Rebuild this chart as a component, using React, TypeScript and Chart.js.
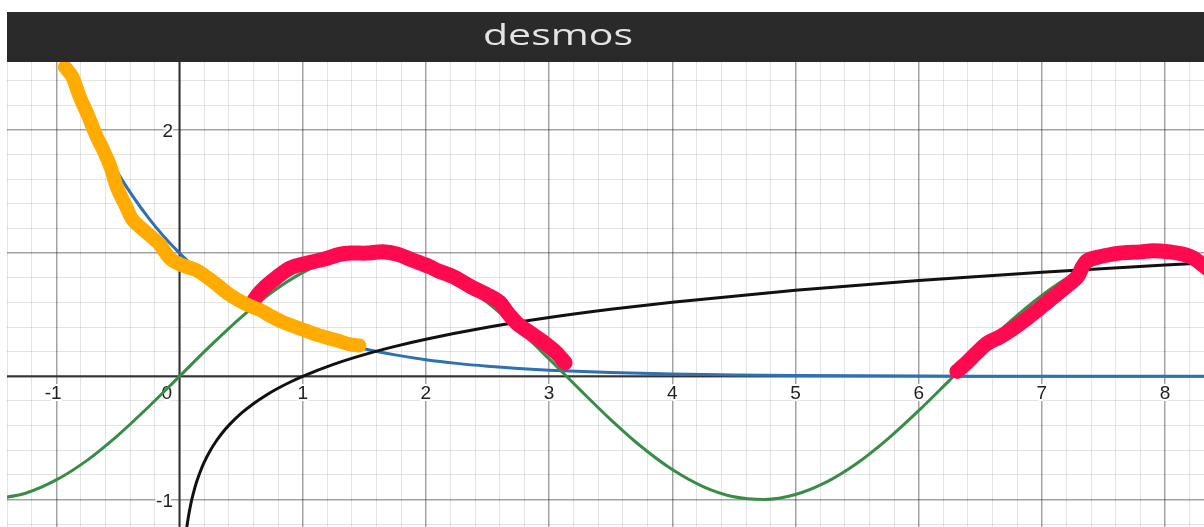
import { useEffect, useRef } from "react";
import { Chart, registerables } from "chart.js";

Chart.register(...registerables);

// Visible window of the graph paper
const X_MIN = -1.4;
const X_MAX = 8.316;
const Y_MIN = -1.223;
const Y_MAX = 2.551;
const MINOR_STEP = 0.2;

// y = e^(-x)
const EXP_X = [-1.5, -1.25, -1, -0.75, -0.5, -0.25, 0, 0.25, 0.5, 0.75, 1, 1.25, 1.5, 1.75, 2, 2.25, 2.5, 2.75, 3, 3.5, 4, 4.5, 5, 6, 7, 8.5];
const EXP_Y = [4.482, 3.49, 2.718, 2.117, 1.649, 1.284, 1.0, 0.779, 0.607, 0.472, 0.368, 0.287, 0.223, 0.174, 0.135, 0.105, 0.082, 0.064, 0.05, 0.03, 0.018, 0.011, 0.007, 0.002, 0.001, 0.0];

// y = sin(x)
const SIN_X = [-1.5, -1.25, -1, -0.75, -0.5, -0.25, 0, 0.25, 0.5, 0.75, 1, 1.25, 1.5, 1.75, 2, 2.25, 2.5, 2.75, 3, 3.25, 3.5, 3.75, 4, 4.25, 4.5, 4.75, 5, 5.25, 5.5, 5.75, 6, 6.25, 6.5, 6.75, 7, 7.25, 7.5, 7.75, 8, 8.25, 8.5];
const SIN_Y = [-0.997, -0.949, -0.841, -0.682, -0.479, -0.247, 0.0, 0.247, 0.479, 0.682, 0.841, 0.949, 0.997, 0.984, 0.909, 0.778, 0.598, 0.382, 0.141, -0.108, -0.351, -0.572, -0.757, -0.895, -0.978, -0.999, -0.959, -0.859, -0.706, -0.508, -0.279, -0.033, 0.215, 0.451, 0.657, 0.823, 0.938, 0.995, 0.989, 0.923, 0.798];

// y = log(x)
const LOG_X = [0.05, 0.06, 0.07, 0.08, 0.09, 0.1, 0.12, 0.14, 0.17, 0.2, 0.25, 0.3, 0.35, 0.4, 0.5, 0.6, 0.7, 0.8, 0.9, 1, 1.25, 1.5, 1.75, 2, 2.5, 3, 3.5, 4, 5, 6, 7, 8, 8.5];
const LOG_Y = [-1.301, -1.222, -1.155, -1.097, -1.046, -1.0, -0.921, -0.854, -0.77, -0.699, -0.602, -0.523, -0.456, -0.398, -0.301, -0.222, -0.155, -0.097, -0.046, 0.0, 0.097, 0.176, 0.243, 0.301, 0.398, 0.477, 0.544, 0.602, 0.699, 0.778, 0.845, 0.903, 0.929];

// Hand-drawn orange stroke along the exponential
const ORANGE_X = [-0.93, -0.87, -0.81, -0.74, -0.67, -0.62, -0.56, -0.51, -0.43, -0.38, -0.26, -0.16, -0.08, 0.0, 0.14, 0.27, 0.41, 0.55, 0.65, 0.74, 0.84, 1.0, 1.14, 1.28, 1.38, 1.46];
const ORANGE_Y = [2.51, 2.43, 2.27, 2.11, 1.94, 1.84, 1.7, 1.54, 1.37, 1.27, 1.16, 1.07, 0.96, 0.91, 0.86, 0.77, 0.66, 0.58, 0.54, 0.49, 0.44, 0.38, 0.33, 0.29, 0.26, 0.25];

// Hand-drawn red strokes over the sine humps
const RED1_X = [0.6, 0.65, 0.76, 0.9, 1.04, 1.17, 1.3, 1.39, 1.52, 1.65, 1.77, 1.9, 2.03, 2.09, 2.22, 2.36, 2.5, 2.6, 2.66, 2.74, 2.85, 2.95, 3.06, 3.13];
const RED1_Y = [0.61, 0.68, 0.78, 0.88, 0.92, 0.95, 0.99, 1.0, 1.0, 1.01, 0.99, 0.94, 0.89, 0.86, 0.81, 0.73, 0.66, 0.6, 0.52, 0.43, 0.35, 0.28, 0.19, 0.11];
const RED2_X = [6.31, 6.39, 6.47, 6.56, 6.66, 6.77, 6.88, 6.99, 7.09, 7.2, 7.29, 7.33, 7.37, 7.47, 7.63, 7.8, 7.9, 8.04, 8.15, 8.23, 8.31, 8.41];
const RED2_Y = [0.04, 0.11, 0.19, 0.27, 0.32, 0.39, 0.47, 0.56, 0.64, 0.73, 0.81, 0.89, 0.94, 0.97, 1.0, 1.01, 1.02, 1.01, 0.99, 0.96, 0.9, 0.82];

// Axis numbers
const X_TICK_LABELS = [-1, 1, 2, 3, 4, 5, 6, 7, 8];
const Y_TICK_LABELS = [2, -1];
const ORIGIN_LABEL = "0";

const BRAND = "desmos";

const pts = (xs: number[], ys: number[]) => xs.map((x, i) => ({ x, y: ys[i] }));

const isMajor = (v: number) => Math.abs(v - Math.round(v)) < 1e-6;

const gridColor = (ctx: any) => {
  const v = ctx.tick ? ctx.tick.value : 0.5;
  return isMajor(v) ? "rgba(0,0,0,0.36)" : "rgba(0,0,0,0.11)";
};
const gridWidth = (ctx: any) => {
  const v = ctx.tick ? ctx.tick.value : 0.5;
  return isMajor(v) ? 1.5 : 1;
};

const buildGridTicks = (scale: any) => {
  const ticks: { value: number }[] = [];
  const first = Math.ceil(scale.min / MINOR_STEP - 1e-9);
  const last = Math.floor(scale.max / MINOR_STEP + 1e-9);
  for (let k = first; k <= last; k++) {
    ticks.push({ value: Math.round(k * MINOR_STEP * 1000) / 1000 });
  }
  scale.ticks = ticks;
};

const LABEL_FONT = '19px "Liberation Sans", Arial, sans-serif';

const paperPlugin = {
  id: "paper",
  beforeDraw(chart: any) {
    const { ctx, width, height } = chart;
    ctx.save();
    ctx.fillStyle = "#ffffff";
    ctx.fillRect(0, 0, width, height);
    // header bar
    ctx.fillStyle = "#2a2a2a";
    ctx.fillRect(7, 12, width - 7, 50);
    // brand name, stretched to the wide logo shape
    ctx.fillStyle = "#e4e4e4";
    ctx.font = '500 29px "Open Sans", sans-serif';
    const w = ctx.measureText(BRAND).width;
    const target = 150;
    ctx.translate(558, 45);
    ctx.scale(target / w, 1);
    ctx.textAlign = "left";
    ctx.textBaseline = "alphabetic";
    ctx.fillText(BRAND, -w / 2, 0);
    ctx.restore();
  },
  beforeDatasetsDraw(chart: any) {
    const { ctx, chartArea, scales } = chart;
    const x0 = scales.x.getPixelForValue(0);
    const y0 = scales.y.getPixelForValue(0);
    ctx.save();
    ctx.beginPath();
    ctx.rect(chartArea.left, chartArea.top, chartArea.right - chartArea.left, chartArea.bottom - chartArea.top);
    ctx.clip();
    // axes
    ctx.strokeStyle = "#333333";
    ctx.lineWidth = 2;
    ctx.beginPath();
    ctx.moveTo(chartArea.left, y0);
    ctx.lineTo(chartArea.right, y0);
    ctx.moveTo(x0, chartArea.top);
    ctx.lineTo(x0, chartArea.bottom);
    ctx.stroke();

    // axis numbers with a white halo
    ctx.font = LABEL_FONT;
    ctx.lineJoin = "round";
    ctx.lineWidth = 4;
    ctx.strokeStyle = "#ffffff";
    ctx.fillStyle = "#222222";
    ctx.textBaseline = "alphabetic";
    const minusW = ctx.measureText("-").width;
    const draw = (text: string, x: number, y: number, align: CanvasTextAlign) => {
      ctx.textAlign = align;
      ctx.strokeText(text, x, y);
      ctx.fillText(text, x, y);
    };
    X_TICK_LABELS.forEach((v) => {
      const px = scales.x.getPixelForValue(v);
      const shift = v < 0 ? minusW / 2 : 0;
      draw(String(v), px - shift, y0 + 22.5, "center");
    });
    draw(ORIGIN_LABEL, x0 - 7.5, y0 + 22.5, "right");
    Y_TICK_LABELS.forEach((v) => {
      const py = scales.y.getPixelForValue(v);
      draw(String(v), x0 - 6.5, py + 7, "right");
    });
    ctx.restore();
  },
};

export default function App() {
  const canvasRef = useRef<HTMLCanvasElement | null>(null);

  useEffect(() => {
    const canvas = canvasRef.current;
    if (!canvas) return;

    const curve = (data: { x: number; y: number }[], color: string) => ({
      data,
      borderColor: color,
      borderWidth: 3,
      pointRadius: 0,
      fill: false,
      cubicInterpolationMode: "monotone" as const,
      borderCapStyle: "round" as const,
      borderJoinStyle: "round" as const,
    });
    const stroke = (data: { x: number; y: number }[], color: string, width: number) => ({
      data,
      borderColor: color,
      borderWidth: width,
      pointRadius: 0,
      fill: false,
      tension: 0.3,
      borderCapStyle: "round" as const,
      borderJoinStyle: "round" as const,
    });

    const chart = new Chart(canvas, {
      type: "line",
      data: {
        datasets: [
          stroke(pts(ORANGE_X, ORANGE_Y), "#ffab00", 14),
          stroke(pts(RED1_X, RED1_Y), "#ff0a4e", 15),
          stroke(pts(RED2_X, RED2_Y), "#ff0a4e", 15),
          curve(pts(LOG_X, LOG_Y), "#111111"),
          curve(pts(SIN_X, SIN_Y), "#388c46"),
          curve(pts(EXP_X, EXP_Y), "#2d70b3"),
        ] as any,
      },
      plugins: [paperPlugin],
      options: {
        animation: false,
        responsive: false,
        devicePixelRatio: 1,
        events: [],
        layout: { padding: { top: 62, left: 7, right: 0, bottom: 0 } },
        plugins: {
          legend: { display: false },
          tooltip: { enabled: false },
        },
        scales: {
          x: {
            type: "linear",
            min: X_MIN,
            max: X_MAX,
            afterBuildTicks: buildGridTicks,
            ticks: { display: false },
            border: { display: false },
            grid: { drawTicks: false, color: gridColor, lineWidth: gridWidth },
          },
          y: {
            type: "linear",
            min: Y_MIN,
            max: Y_MAX,
            afterBuildTicks: buildGridTicks,
            ticks: { display: false },
            border: { display: false },
            grid: { drawTicks: false, color: gridColor, lineWidth: gridWidth },
          },
        },
      } as any,
    });

    return () => chart.destroy();
  }, []);

  return (
    <div style={{ position: "fixed", left: 0, top: 0, width: 1204, height: 527 }}>
      <canvas ref={canvasRef} width={1204} height={527} style={{ display: "block" }} />
    </div>
  );
}
